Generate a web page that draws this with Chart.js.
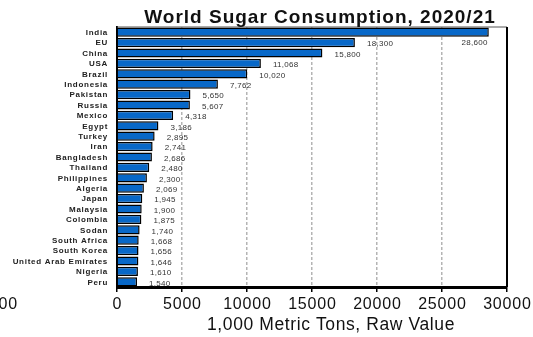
<!DOCTYPE html>
<html>
<head>
<meta charset="utf-8">
<script src="https://cdn.jsdelivr.net/npm/chart.js@4.4.0/dist/chart.umd.min.js"></script>
<style>
  html, body { margin: 0; padding: 0; background: #fff; }
</style>
</head>
<body>
<canvas id="sugarChart" width="533" height="337"></canvas>
<script>
// World sugar consumption 2020/21, 1,000 metric tons raw value
var countries = ["India", "EU", "China", "USA", "Brazil", "Indonesia", "Pakistan", "Russia",
  "Mexico", "Egypt", "Turkey", "Iran", "Bangladesh", "Thailand", "Philippines", "Algeria",
  "Japan", "Malaysia", "Colombia", "Sodan", "South Africa", "South Korea",
  "United Arab Emirates", "Nigeria", "Peru"];
var consumption = [28600, 18300, 15800, 11068, 10020, 7762, 5650, 5607,
  4318, 3186, 2895, 2741, 2686, 2480, 2300, 2069,
  1945, 1900, 1875, 1740, 1668, 1656, 1646, 1610, 1540];
var xTicks = [0, 5000, 10000, 15000, 20000, 25000, 30000];

var titleText = "World Sugar Consumption, 2020/21";
var axisTitle = "1,000 Metric Tons, Raw Value";
var FONT = "Arial, 'Liberation Sans', sans-serif";

// value labels, frame, axis labels, titles (letter-spaced like the source image)
var extras = {
  id: "extras",
  afterDatasetsDraw: function (chart) {
    var ctx = chart.ctx;
    var area = chart.chartArea;
    var meta = chart.getDatasetMeta(0);
    ctx.save();
    ctx.font = "8px " + FONT;
    ctx.fillStyle = "#333";
    ctx.textBaseline = "middle";
    meta.data.forEach(function (bar, i) {
      var txt = consumption[i].toLocaleString("en-US");
      if (i === 0) {
        ctx.textAlign = "right";
        ctx.letterSpacing = "0.3px";
        ctx.fillText(txt, bar.x - 1, bar.y + 11);
      } else {
        ctx.textAlign = "left";
        ctx.letterSpacing = "0.3px";
        ctx.fillText(txt, bar.x + 12, bar.y + 1.5);
      }
    });
    // top + right frame
    ctx.strokeStyle = "#555";
    ctx.lineWidth = 1;
    ctx.beginPath();
    ctx.moveTo(area.left, area.top);
    ctx.lineTo(area.right, area.top);
    ctx.stroke();
    ctx.strokeStyle = "#000";
    ctx.lineWidth = 2;
    ctx.beginPath();
    ctx.moveTo(area.right, area.top);
    ctx.lineTo(area.right, area.bottom);
    ctx.stroke();
    ctx.restore();
  },
  afterDraw: function (chart) {
    var ctx = chart.ctx;
    var xs = chart.scales.x, ys = chart.scales.y;
    ctx.save();
    ctx.textBaseline = "middle";

    // category labels
    ctx.fillStyle = "#222";
    ctx.textAlign = "right";
    ctx.font = "bold 8px " + FONT;
    ctx.letterSpacing = "0.7px";
    countries.forEach(function (c, i) {
      ctx.fillText(c, 108, ys.getPixelForTick(i) + 0.5);
    });

    // x tick labels
    ctx.fillStyle = "#111";
    ctx.textAlign = "center";
    ctx.textBaseline = "alphabetic";
    ctx.font = "16px " + FONT;
    ctx.letterSpacing = "0.8px";
    xTicks.forEach(function (v) {
      ctx.fillText(String(v), xs.getPixelForValue(v) + 0.4, 309);
    });
    // clipped tick label from a neighbouring chart
    ctx.textAlign = "right";
    ctx.fillText("00", 18, 309);

    ctx.textAlign = "center";
    ctx.font = "bold 19px " + FONT;
    ctx.letterSpacing = "1px";
    ctx.fillText(titleText, 320, 23);
    ctx.font = "17.5px " + FONT;
    ctx.letterSpacing = "0.6px";
    ctx.fillText(axisTitle, 331, 330);
    ctx.restore();
  }
};

new Chart(document.getElementById("sugarChart"), {
  type: "bar",
  data: {
    labels: countries,
    datasets: [{
      data: consumption,
      backgroundColor: "#0868c8",
      borderColor: "#000",
      borderWidth: 1.5,
      barPercentage: 0.88,
      categoryPercentage: 1
    }]
  },
  options: {
    indexAxis: "y",
    responsive: false,
    animation: false,
    layout: { padding: { top: 27, right: 26, left: 0, bottom: 0 } },
    plugins: {
      legend: { display: false },
      tooltip: { enabled: false }
    },
    scales: {
      x: {
        min: 0,
        max: 30000,
        afterBuildTicks: function (scale) {
          scale.ticks = xTicks.map(function (v) { return { value: v }; });
        },
        afterFit: function (scale) { scale.height = 50; },
        ticks: { display: false },
        grid: {
          color: function (c) {
            var v = c.tick ? c.tick.value : 0;
            return (v === 0 || v === 30000) ? "rgba(0,0,0,0)" : "#b4b4b4";
          },
          lineWidth: 1.5,
          tickColor: "#000",
          tickLength: 5,
          tickWidth: 1.5,
          tickBorderDash: [1, 0]
        },
        border: { color: "#000", width: 3, dash: [3, 2] }
      },
      y: {
        afterFit: function (scale) { scale.width = 117; },
        ticks: { display: false, autoSkip: false },
        grid: { display: false, drawTicks: false },
        border: { color: "#000", width: 2 }
      }
    }
  },
  plugins: [extras]
});
</script>
</body>
</html>
